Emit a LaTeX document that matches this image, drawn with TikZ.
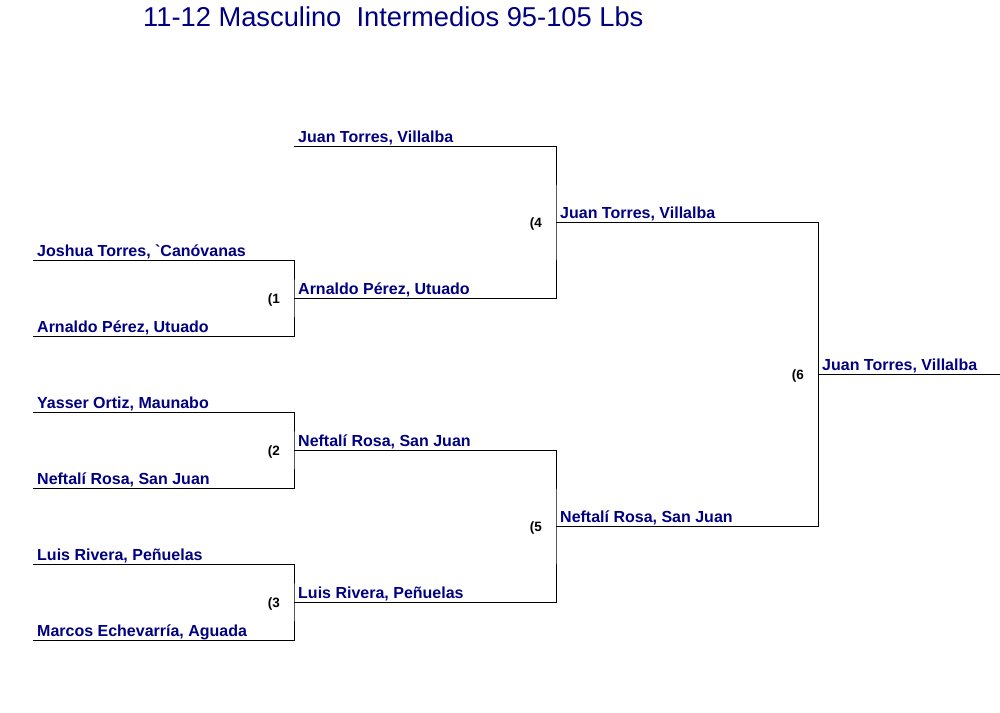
\documentclass[tikz,border=0pt]{standalone}
\usepackage{fontspec}
\setmainfont{Liberation Sans}
\usepackage{tikz}
\usepackage{xcolor}
\usetikzlibrary{positioning}

\definecolor{navyblue}{RGB}{0,0,128}

\tikzset{
  player/.style={anchor=base west, inner sep=0pt, xshift=4pt, yshift=4pt, text=navyblue, font=\bfseries\fontsize{16}{16}\selectfont},
  bout/.style={anchor=base east, inner sep=0pt, xshift=-14pt, yshift=-5pt, font=\bfseries\fontsize{13.5}{13.5}\selectfont},
  bracket/.style={draw=black, line width=1pt}
}

\begin{document}
\begin{tikzpicture}[x=1pt, y=-1pt]
                    \useasboundingbox (0,0) rectangle (1000,712);
                    \node[anchor=base west, inner sep=0pt, text=navyblue, font=\fontsize{27.3}{27.3}\selectfont] (title) at (143,26) {11-12 Masculino\ \ Intermedios 95-105 Lbs};

                    \coordinate (r1a) at (33,260);
                    \coordinate (r1b) at (33,336);
                    \coordinate (r1c) at (33,412);
                    \coordinate (r1d) at (33,488);
                    \coordinate (r1e) at (33,564);
                    \coordinate (r1f) at (33,640);
                    \coordinate (r2a) at (294,146);
                    \coordinate (r2b) at (294,298);
                    \coordinate (r2c) at (294,450);
                    \coordinate (r2d) at (294,602);
                    \coordinate (r3a) at (556,222);
                    \coordinate (r3b) at (556,526);
                    \coordinate (r4) at (818,374);
                    \coordinate (fin) at (1000,374);

                    \draw[bracket] (r1a) -| (r2b) |- (r1b);
                    \draw[bracket] (r1c) -| (r2c) |- (r1d);
                    \draw[bracket] (r1e) -| (r2d) |- (r1f);
                    \draw[bracket] (r2a) -| (r3a) |- (r2b);
                    \draw[bracket] (r2c) -| (r3b) |- (r2d);
                    \draw[bracket] (r3a) -| (r4) |- (r3b);
                    \draw[bracket] (r4) -- (fin);

                    \node[player] (jtorres) at (r1a) {Joshua Torres, \textasciigrave Canóvanas};
                    \node[player] (aperez) at (r1b) {Arnaldo Pérez, Utuado};
                    \node[player] (yortiz) at (r1c) {Yasser Ortiz, Maunabo};
                    \node[player] (nrosa) at (r1d) {Neftalí Rosa, San Juan};
                    \node[player] (lrivera) at (r1e) {Luis Rivera, Peñuelas};
                    \node[player] (mechevarria) at (r1f) {Marcos Echevarría, Aguada};

                    \node[player] (jtorres2) at (r2a) {Juan Torres, Villalba};
                    \node[player] (aperez2) at (r2b) {Arnaldo Pérez, Utuado};
                    \node[player] (nrosa2) at (r2c) {Neftalí Rosa, San Juan};
                    \node[player] (lrivera2) at (r2d) {Luis Rivera, Peñuelas};

                    \node[player] (jtorres3) at (r3a) {Juan Torres, Villalba};
                    \node[player] (nrosa3) at (r3b) {Neftalí Rosa, San Juan};

                    \node[player] (winner) at (r4) {Juan Torres, Villalba};

                    \node[bout] (b1) at (r2b) {(1};
                    \node[bout] (b2) at (r2c) {(2};
                    \node[bout] (b3) at (r2d) {(3};
                    \node[bout] (b4) at (r3a) {(4};
                    \node[bout] (b5) at (r3b) {(5};
                    \node[bout] (b6) at (r4) {(6};
                \end{tikzpicture}
\end{document}
